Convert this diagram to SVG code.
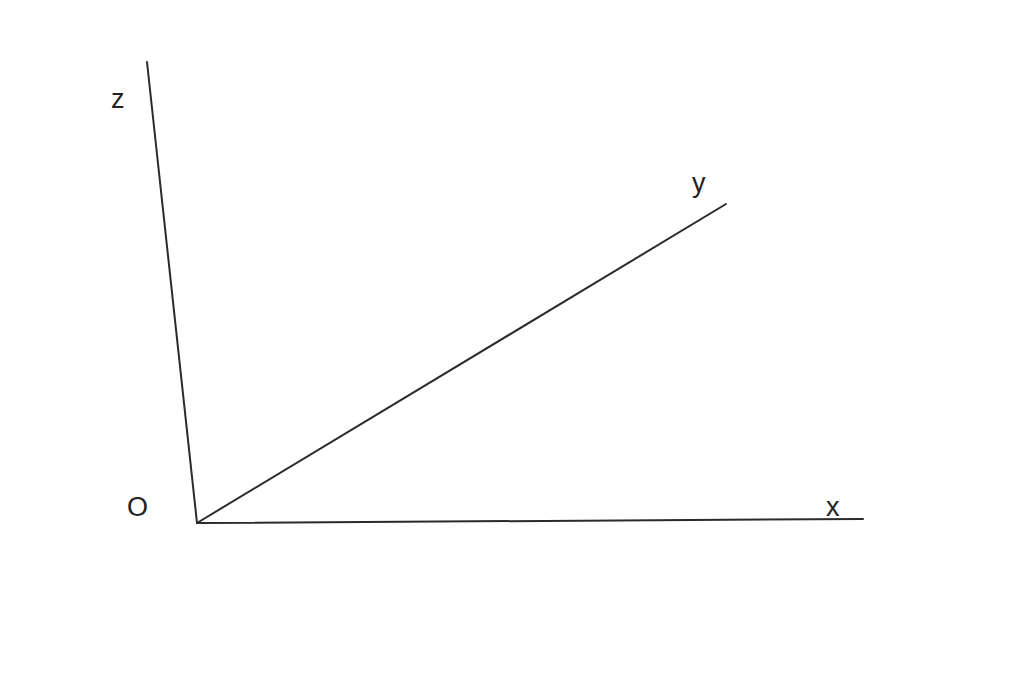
<svg xmlns="http://www.w3.org/2000/svg" width="1024" height="680" viewBox="0 0 1024 680">
<style>
.ax{stroke:#2b2b2b;stroke-width:2;fill:none;stroke-linecap:round}
.lb{font-family:"Liberation Sans",Arial,sans-serif;font-size:27px;fill:#222}
</style>
<rect width="1024" height="680" fill="#fff"/>
<g id="connectors">
<line class="ax" x1="197" y1="523" x2="147" y2="62"/>
<line class="ax" x1="197" y1="523" x2="726" y2="204"/>
<line class="ax" x1="197" y1="523" x2="863" y2="519"/>
</g>
<g id="origin"><text class="lb" x="127" y="516">O</text></g>
<g id="z-label"><text class="lb" x="111" y="108">z</text></g>
<g id="y-label"><text class="lb" x="692" y="192">y</text></g>
<g id="x-label"><text class="lb" x="826" y="516">x</text></g>
</svg>
